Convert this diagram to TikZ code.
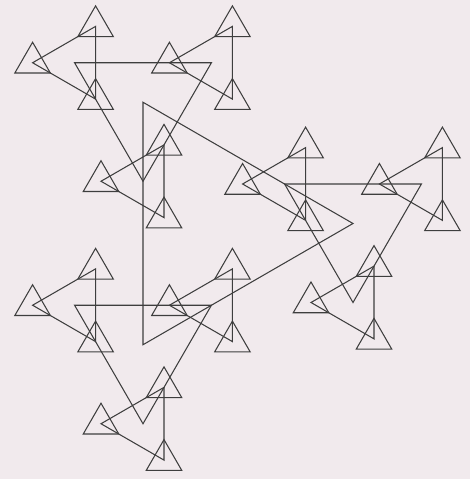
\documentclass[tikz,border=0pt]{standalone}
\usepackage{tikz}
\definecolor{paper}{RGB}{241,234,237}
\definecolor{ink}{RGB}{62,62,62}

\begin{document}
\begin{tikzpicture}[
    x=0.5mm, y=0.5mm,
    tri/.style={draw=ink, line width=1.5pt, line join=miter}
  ]
    \fill[paper] (0,0) rectangle (470,479);
    % outer triangle, then three levels around its corners
    \begin{scope}[shift={(213,255.5)}]
      \draw[tri] (0:140) -- (120:140) -- (240:140) -- cycle;
      \foreach \a in {0,120,240} {
        \begin{scope}[shift={(\a:140)}]
          \draw[tri] (30:79) -- (150:79) -- (270:79) -- cycle;
          \foreach \b in {30,150,270} {
            \begin{scope}[shift={(\b:79)}]
              \draw[tri] (60:42) -- (180:42) -- (300:42) -- cycle;
              \foreach \c in {60,180,300}
                \draw[tri, shift={(\c:42)}] (90:20.5) -- (210:20.5) -- (330:20.5) -- cycle;
            \end{scope}
          }
        \end{scope}
      }
    \end{scope}
\end{tikzpicture}
\end{document}
